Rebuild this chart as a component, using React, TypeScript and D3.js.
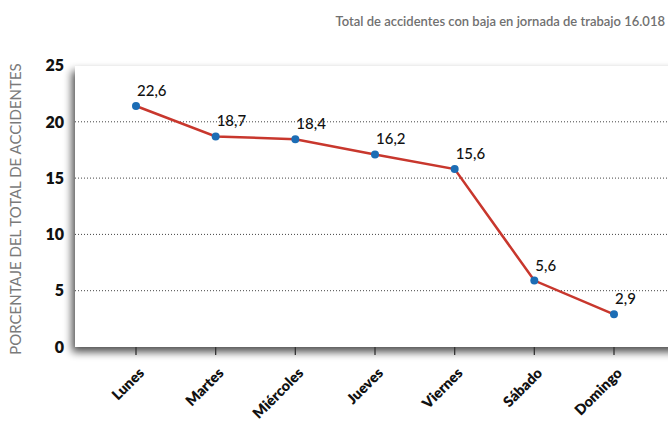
import React from "react";
import * as d3 from "d3";

const days = ["Lunes", "Martes", "Miércoles", "Jueves", "Viernes", "Sábado", "Domingo"];
const plotted = [21.4, 18.7, 18.45, 17.1, 15.8, 5.9, 2.9];
const valueLabels = ["22,6", "18,7", "18,4", "16,2", "15,6", "5,6", "2,9"];
const yTicks = [0, 5, 10, 15, 20, 25];
const gridTicks = [5, 10, 15, 20];
const title = "Total de accidentes con baja en jornada de trabajo 16.018";
const yTitle = "PORCENTAJE DEL TOTAL DE ACCIDENTES";

const W = 668;
const H = 421;
const panel = { left: 75, top: 66, bottom: 347 };

export default function App() {
  const x = d3.scalePoint<string>().domain(days).range([136, 614]);
  const y = d3.scaleLinear().domain([0, 25]).range([panel.bottom, 65.5]);
  const line = d3
    .line<number>()
    .x((_, i) => x(days[i]) as number)
    .y((d) => y(d));
  const font = "Lato, 'Open Sans', sans-serif";

  return (
    <svg
      width={W}
      height={H}
      style={{ position: "absolute", left: 0, top: 0, background: "#fff" }}
      fontFamily={font}
    >
      <defs>
        <filter id="sh" x="-10%" y="-10%" width="130%" height="130%">
          <feGaussianBlur in="SourceAlpha" stdDeviation="4" />
          <feOffset dx="-3" dy="5" result="b" />
          <feComponentTransfer>
            <feFuncA type="linear" slope="0.7" />
          </feComponentTransfer>
          <feMerge>
            <feMergeNode />
            <feMergeNode in="SourceGraphic" />
          </feMerge>
        </filter>
      </defs>
      <text x={665} y={26} textAnchor="end" fontSize={13} fontWeight={600} fill="#707070">
        {title}
      </text>
      <text
        transform={`translate(21,209) rotate(-90)`}
        textAnchor="middle"
        fontSize={15}
        fill="#7a7a7a"
      >
        {yTitle}
      </text>
      <rect
        x={panel.left}
        y={panel.top}
        width={W - panel.left + 20}
        height={panel.bottom - panel.top}
        fill="#fff"
        filter="url(#sh)"
      />
      {gridTicks.map((t) => (
        <line
          key={t}
          x1={panel.left}
          x2={W}
          y1={y(t)}
          y2={y(t)}
          stroke="#444"
          strokeWidth={1}
          strokeDasharray="1,2"
        />
      ))}
      {yTicks.map((t) => (
        <text
          key={t}
          x={64}
          y={y(t)}
          dy="0.36em"
          textAnchor="end"
          fontSize={16}
          fontWeight={800}
          fill="#111"
        >
          {t}
        </text>
      ))}
      {days.map((d) => (
        <line
          key={d}
          x1={x(d)}
          x2={x(d)}
          y1={panel.bottom}
          y2={panel.bottom + 8}
          stroke="#333"
          strokeWidth={1.3}
        />
      ))}
      {days.map((d) => (
        <text
          key={d}
          transform={`translate(${(x(d) as number) + 9},${374}) rotate(-45)`}
          textAnchor="end"
          fontSize={14.5}
          fontWeight={800}
          fill="#111"
        >
          {d}
        </text>
      ))}
      <path d={line(plotted) || ""} fill="none" stroke="#c8372d" strokeWidth={2.5} />
      {plotted.map((v, i) => (
        <circle key={i} cx={x(days[i])} cy={y(v)} r={4} fill="#1c6db5" />
      ))}
      {plotted.map((v, i) => (
        <text
          key={i}
          x={(x(days[i]) as number) + 1}
          y={y(v) - 10}
          fontSize={15}
          fontWeight={500}
          fill="#111"
        >
          {valueLabels[i]}
        </text>
      ))}
    </svg>
  );
}
